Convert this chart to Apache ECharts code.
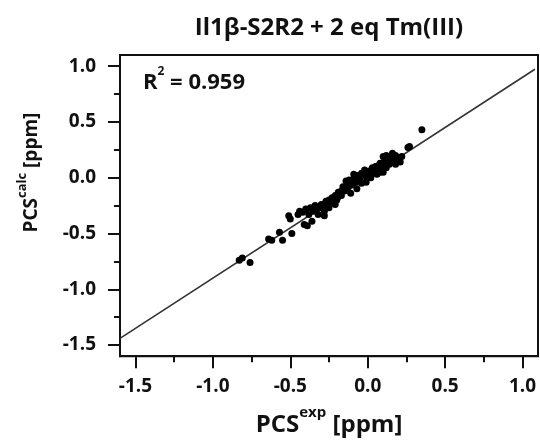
<!DOCTYPE html>
<html><head><meta charset="utf-8">
<script src="https://cdn.jsdelivr.net/npm/echarts@6/dist/echarts.min.js"></script>
<style>html,body{margin:0;padding:0;background:#fff}#c{width:540px;height:442px}</style>
</head><body><div id="c"></div>
<script>
// ---- data ----
const pcsExp = [-0.83,-0.81,-0.76,-0.64,-0.62,-0.57,-0.55,-0.49,-0.51,-0.50,-0.44,-0.40,-0.41,-0.39,-0.36,-0.37,-0.34,-0.30,-0.32,-0.28,-0.26,-0.24,-0.22,-0.19,-0.17,-0.16,-0.14,-0.12,-0.13,-0.11,-0.09,-0.06,-0.04,-0.02,0.00,0.02,0.04,0.06,0.09,0.11,0.13,0.15,0.12,0.17,0.19,0.26,0.27,0.35,-0.20,-0.10,0.05,0.10,0.14,0.18,0.08,-0.05,-0.25,-0.21,0.16,0.20,-0.03,0.12,0.03,-0.18,-0.07,0.07,
  -0.45,-0.42,-0.38,-0.35,-0.33,-0.31,-0.29,-0.27,-0.25,-0.23,-0.21,-0.19,-0.17,-0.15,-0.13,-0.10,-0.08,-0.07,-0.04,-0.01,0.01,0.03,0.05,0.07,0.09,0.11,0.13,0.14,0.16,0.18,0.21,0.22,0.10,0.08,-0.01,-0.28];
const pcsCalc = [-0.74,-0.72,-0.76,-0.55,-0.56,-0.49,-0.56,-0.50,-0.34,-0.37,-0.30,-0.28,-0.42,-0.43,-0.39,-0.27,-0.25,-0.24,-0.33,-0.30,-0.24,-0.22,-0.19,-0.17,-0.12,-0.08,-0.03,-0.02,-0.09,-0.14,0.03,0.00,-0.05,0.07,0.04,0.00,0.07,0.03,0.12,0.15,0.18,0.19,0.09,0.15,0.18,0.27,0.28,0.43,-0.20,-0.06,0.10,0.05,0.12,0.12,0.05,-0.02,-0.27,-0.24,0.22,0.16,0.03,0.20,0.04,-0.14,-0.10,0.11,
  -0.33,-0.31,-0.33,-0.30,-0.28,-0.27,-0.26,-0.21,-0.20,-0.18,-0.16,-0.13,-0.16,-0.12,-0.06,-0.02,-0.04,0.02,0.04,0.01,0.06,0.09,0.05,0.08,0.07,0.10,0.14,0.16,0.17,0.20,0.14,0.19,0.19,0.13,-0.04,-0.34];
const fitX = [-1.6, 1.08];
const fitY = [-1.44, 0.972];
const majorTicks = [-1.5, -1.0, -0.5, 0.0, 0.5, 1.0];
const minorTicks = [-1.25, -0.75, -0.25, 0.25, 0.75];
const titleText = 'Il1\u03b2-S2R2 + 2 eq Tm(III)';
const r2Text = '0.959';

const FONT = 'Open Sans';
const C = '#111';
function axisPair(dim){
  const isX = dim === 'x';
  const base = {
    type: 'value', min: -1.6, max: 1.1, gridIndex: 0,
    position: isX ? 'bottom' : 'left',
    splitLine: {show: false},
  };
  const nameSize = isX ? 24 : 19;
  const supSize = isX ? 15 : 13;
  const major = Object.assign({}, base, {
    axisLine: {show: true, onZero: false, lineStyle: {color: C, width: 2}},
    axisTick: {show: true, length: 12, lineStyle: {color: C, width: 2}, customValues: majorTicks},
    axisLabel: {show: true, customValues: majorTicks, margin: isX ? 21 : 24,
      fontFamily: FONT, fontWeight: 'bold', fontSize: 19, color: C,
      formatter: v => v.toFixed(1)},
    nameLocation: 'middle',
    nameTextStyle: {fontFamily: FONT, fontWeight: 'bold', color: C,
      rich: {
        b: {fontFamily: FONT, fontWeight: 'bold', fontSize: nameSize, color: C, lineHeight: nameSize * 1.65},
        s: {fontFamily: FONT, fontWeight: 'bold', fontSize: supSize, color: C, verticalAlign: 'top', lineHeight: supSize}
      }}
  });
  if (isX) {
    major.name = '{b|PCS}{s|exp}{b| [ppm]}';
    major.nameGap = 49;
  } else {
    major.name = '{b|PCS}{s|calc}{b| [ppm]}';
    major.nameGap = 73;
    major.nameTextStyle.padding = [0, 0, 0, 66];
  }
  const minor = Object.assign({}, base, {
    axisLine: {show: false, onZero: false},
    axisTick: {show: true, length: 6, lineStyle: {color: C, width: 2}, customValues: minorTicks},
    axisLabel: {show: false}
  });
  return [major, minor];
}

const chart = echarts.init(document.getElementById('c'));
chart.setOption({
  backgroundColor: '#fff',
  animation: false,
  title: [
    {text: titleText, left: 324, top: 11, textAlign: 'center',
     textStyle: {fontFamily: FONT, fontWeight: 'bold', fontSize: 24, color: C}},
    {text: '{b|R}{s|2}{b| = ' + r2Text + '}', left: 138, top: 61,
     textStyle: {rich: {
       b: {fontFamily: FONT, fontWeight: 'bold', fontSize: 22, color: C, lineHeight: 34},
       s: {fontFamily: FONT, fontWeight: 'bold', fontSize: 12, color: C, verticalAlign: 'top', lineHeight: 12}
     }}}
  ],
  grid: {left: 120, right: 2, top: 55, bottom: 85, show: true, borderColor: C, borderWidth: 2, backgroundColor: 'transparent'},
  xAxis: axisPair('x'),
  yAxis: axisPair('y'),
  series: [
    {type: 'line', xAxisIndex: 0, yAxisIndex: 0, data: fitX.map((x, i) => [x, fitY[i]]),
     symbol: 'none', lineStyle: {color: '#333', width: 1.6}, z: 2},
    {type: 'scatter', xAxisIndex: 0, yAxisIndex: 0, data: pcsExp.map((x, i) => [x, pcsCalc[i]]),
     symbolSize: 7, itemStyle: {color: '#000', opacity: 1}, z: 3}
  ]
});
</script></body></html>
